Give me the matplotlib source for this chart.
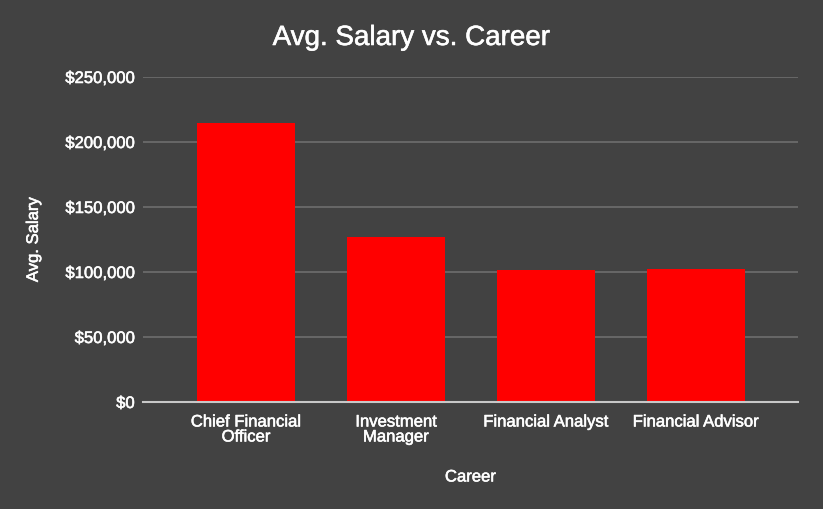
import matplotlib
matplotlib.use("Agg")
import matplotlib.pyplot as plt
import matplotlib.patheffects as pe
from matplotlib.ticker import FuncFormatter

careers = ["Chief Financial\nOfficer", "Investment\nManager", "Financial Analyst", "Financial Advisor"]
salaries = [214500, 127300, 101200, 102500]
yticks = [0, 50000, 100000, 150000, 200000, 250000]

bg = "#424242"
plt.rcParams['font.family'] = ['Liberation Sans', 'DejaVu Sans']
thick = [pe.withStroke(linewidth=0.4, foreground="white")]

fig = plt.figure(figsize=(8.23, 5.10), dpi=100, facecolor=bg)
ax = fig.add_axes([143/823, 1-403/510, (798-143)/823, (403-78)/510])
ax.set_facecolor(bg)

x = list(range(len(careers)))
ax.bar(x, salaries, width=0.65, color="#ff0000", zorder=3)

ax.set_xlim(-0.687, 3.68)
ax.set_ylim(0, 250000)
ax.set_yticks(yticks)
ax.yaxis.set_major_formatter(FuncFormatter(lambda v, p: f"${int(v):,}"))
ax.grid(axis="y", color="#6e6e6e", linewidth=1.2, zorder=0)
ax.set_xticks(x)
ax.set_xticklabels(careers, color="white", fontsize=12, linespacing=1.0)
ax.tick_params(axis="y", colors="white", labelsize=12, length=0, pad=6)
ax.tick_params(axis="x", length=0, pad=9)
for lbl in ax.get_xticklabels() + ax.get_yticklabels():
    lbl.set_path_effects(thick)
for s in ["top", "right", "left"]:
    ax.spines[s].set_visible(False)
ax.spines["bottom"].set_color("#c8c8c8")
ax.spines["bottom"].set_linewidth(1.5)
ax.spines["bottom"].set_zorder(4)

ax.set_xlabel("Career", color="white", fontsize=12, path_effects=thick)
ax.xaxis.set_label_coords(0.5, -(477-403)/325 + 0.02)
ax.set_ylabel("Avg. Salary", color="white", fontsize=12, path_effects=thick)
ax.yaxis.set_label_coords(-(143-33)/655 + 0.012, 0.5)

fig.text(411/823, 1-39/510, "Avg. Salary vs. Career", color="white", fontsize=20,
         ha="center", va="center", path_effects=thick)

fig.savefig("out.png", dpi=100, facecolor=bg)
